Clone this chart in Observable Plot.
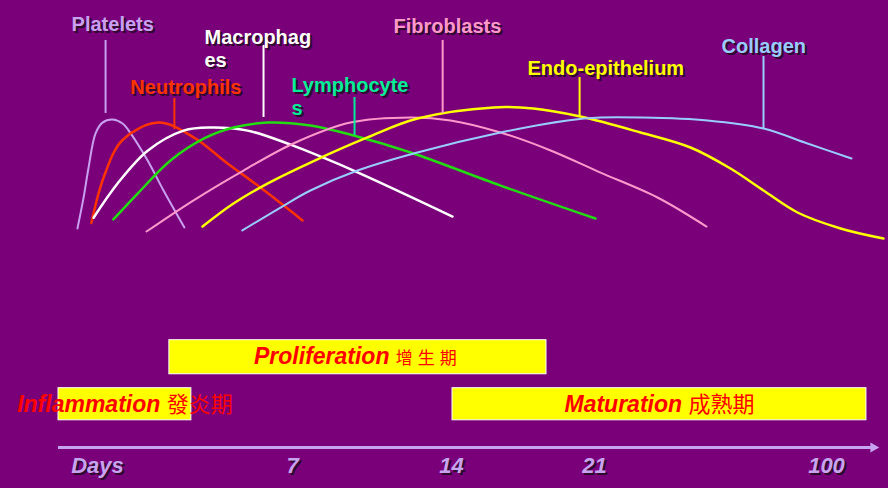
<!DOCTYPE html>
<html>
<head>
<meta charset="utf-8">
<script src="https://cdn.jsdelivr.net/npm/d3@7"></script>
<script src="https://cdn.jsdelivr.net/npm/@observablehq/plot@0.6"></script>
<style>
html, body { margin: 0; padding: 0; background: #7a007a; }
#chart { width: 888px; height: 488px; background: #7a007a; overflow: hidden; }
#chart svg { display: block; }
</style>
</head>
<body>
<div id="chart"></div>
<script>
// ---------- DATA ----------
// Time axis (days) and its tick labels
const tickDays = [0, 7, 14, 21, 100];
const tickLabels = ["Days", "7", "14", "21", "100"];
const axisSpan = [-1.4, 118.0];

// Cell / matrix types
const cellTypes = ["Platelets", "Neutrophils", "Macrophages", "Lymphocytes", "Fibroblasts", "Endo-epithelium", "Collagen"];
const labelTexts = ["Platelets", "Neutrophils", "Macrophag\nes", "Lymphocyte\ns", "Fibroblasts", "Endo-epithelium", "Collagen"];

// Relative activity curves (day, level 0-100)
const plateletsDay = [-0.72, -0.5, -0.32, -0.07, 0.18, 0.54, 0.9, 1.19, 1.8, 2.37, 3.12];
const plateletsLevel = [9, 32, 54.5, 80, 88, 90.3, 87.3, 80, 59.7, 37.3, 9.7];
const neutrophilsDay = [-0.22, 0.22, 0.9, 2.19, 3.45, 4.67, 5.85, 7.44];
const neutrophilsLevel = [13, 47, 75, 88, 77, 57.5, 39.5, 15];
const macrophagesDay = [-0.14, 0.72, 1.8, 3.09, 4.06, 5.39, 6.82, 7.35, 9.69, 14.05];
const macrophagesLevel = [17, 42.5, 67, 82, 84.3, 82, 72.4, 68.7, 52.2, 17.9];
const lymphocytesDay = [0.57, 1.44, 2.62, 3.81, 4.88, 6.1, 7.79, 9.69, 12.2, 16.4, 21.34];
const lymphocytesLevel = [15.7, 35, 59.7, 76, 84.3, 88, 85.8, 78.4, 65.7, 41, 16.4];
const fibroblastsDay = [1.76, 3.45, 5.24, 7.04, 9.55, 12.2, 13.96, 16.4, 18.85, 23.04, 42.45, 59.14];
const fibroblastsLevel = [6.7, 30, 52.2, 72.4, 88, 91.8, 89.6, 80.6, 67.2, 50.7, 32.1, 10.4];
const endoDay = [3.77, 4.88, 6.1, 7.79, 10.3, 12.5, 16.06, 18.01, 20.31, 36.66, 53.69, 67.31, 78.55, 90.13, 104.77, 119.41];
const endoLevel = [10.4, 27.6, 42.5, 58.2, 76.9, 91, 99.3, 98.5, 92.5, 80.6, 69.4, 53.7, 37.3, 20.9, 9, 1.5];
const collagenDay = [5.2, 6.57, 7.79, 9.86, 12.5, 16.4, 19.68, 23.04, 36.66, 59.48, 78.55, 93.53, 108.51];
const collagenLevel = [7.5, 24.6, 37.3, 52.2, 65.7, 80.6, 89.6, 91.8, 91.8, 89.6, 83.6, 72.4, 61.2];

// Label anchors (day, level) and leader lines
const labelDay = [-0.93, 1.18, 3.84, 6.96, 11.45, 17.72, 64.25];
const labelLevel = [161.5, 114.5, 143.2, 107.4, 160.0, 128.7, 145.1];
const leaderDay = [0.29, 2.76, 5.96, 9.73, 13.61, 20.27, 78.55];
const leaderTop = [149.3, 106, 145.5, 106.7, 149.3, 121.6, 137.3];
const leaderBottom = [94.8, 82.8, 91.8, 78.4, 94.8, 92.5, 83.6];

// Healing phases
const phaseNames = ["Proliferation", "Inflammation", "Maturation"];
const phaseCJK = ["增生期", "發炎期", "成熟期"];
const phaseStart = [2.58, -1.4, 14.05];
const phaseEnd = [18.65, 3.37, 113.6];
const phaseRow = [2, 1, 1];

// ---------- STYLES ----------
const curveColor = {
  "Platelets": "#c9a0f0", "Neutrophils": "#ff3300", "Macrophages": "#ffffff",
  "Lymphocytes": "#22dd11", "Fibroblasts": "#ff99cc", "Endo-epithelium": "#ffff00", "Collagen": "#99ccff"
};
const labelColor = Object.assign({}, curveColor, {"Lymphocytes": "#00ee99"});
const curveWidth = {"Fibroblasts": 2, "Collagen": 2, "Platelets": 2};
const cjkStyle = {"Proliferation": {size: 17, spacing: 5}, "Inflammation": {size: 22, spacing: 0}, "Maturation": {size: 22, spacing: 0}};
const latinFont = "'Liberation Sans', Arial, Helvetica, sans-serif";
const bg = "#7a007a";
const shadowColor = "#2e0a2e";
const axisColor = "#c8a4f0";

// ---------- BUILD TABLES ----------
const series = {
  "Platelets": [plateletsDay, plateletsLevel],
  "Neutrophils": [neutrophilsDay, neutrophilsLevel],
  "Macrophages": [macrophagesDay, macrophagesLevel],
  "Lymphocytes": [lymphocytesDay, lymphocytesLevel],
  "Fibroblasts": [fibroblastsDay, fibroblastsLevel],
  "Endo-epithelium": [endoDay, endoLevel],
  "Collagen": [collagenDay, collagenLevel]
};
const labels = cellTypes.map((type, i) => ({
  type, text: labelTexts[i], day: labelDay[i], level: labelLevel[i],
  leaderDay: leaderDay[i], top: leaderTop[i], bottom: leaderBottom[i]
}));
const phases = phaseNames.map((name, i) => ({
  name, cjk: phaseCJK[i], start: phaseStart[i], end: phaseEnd[i], row: phaseRow[i]
}));
const ticks = tickDays.map((d, i) => ({day: d, label: tickLabels[i]}));

const xRange = [97, 292, 451, 594, 826];
const xDef = {type: "linear", domain: tickDays, range: xRange, axis: null};
const xs = Plot.scale({x: {type: "linear", domain: tickDays, range: xRange}});
const mid = (a, b) => xs.invert((xs.apply(a) + xs.apply(b)) / 2);
const arrowCenter = xs.invert(xs.apply(axisSpan[1]) - 6);

// ---------- TOP PLOT: curves ----------
const curveMarks = cellTypes.map(type => {
  const [days, levels] = series[type];
  const pts = days.map((d, i) => ({day: d, level: levels[i]}));
  return Plot.line(pts, {x: "day", y: "level", stroke: curveColor[type],
    strokeWidth: curveWidth[type] || 2.5, curve: "catmull-rom"});
});

const topPlot = Plot.plot({
  width: 888, height: 330,
  marginTop: 0, marginRight: 0, marginBottom: 0, marginLeft: 0,
  style: {background: bg, overflow: "visible"},
  x: xDef,
  y: {type: "linear", domain: [0, 100], range: [240, 106], axis: null},
  marks: [
    ...curveMarks,
    Plot.ruleX(labels, {x: "leaderDay", y1: "top", y2: "bottom", stroke: d => labelColor[d.type], strokeWidth: 2}),
    Plot.text(labels, {x: "day", y: "level", text: "text", textAnchor: "start", lineAnchor: "middle",
      lineHeight: 1.15, dx: 2, dy: 2, fill: shadowColor, fontSize: 20, fontWeight: "bold", fontFamily: latinFont}),
    Plot.text(labels, {x: "day", y: "level", text: "text", textAnchor: "start", lineAnchor: "middle",
      lineHeight: 1.15, fill: d => labelColor[d.type], fontSize: 20, fontWeight: "bold", fontFamily: latinFont})
  ]
});

// ---------- BOTTOM PLOT: phases + time axis ----------
const bottomPlot = Plot.plot({
  width: 888, height: 158,
  marginTop: 0, marginRight: 0, marginBottom: 0, marginLeft: 0,
  style: {background: bg, overflow: "visible"},
  x: xDef,
  y: {type: "linear", domain: [0, 1, 2], range: [117, 74.5, 26.5], axis: null},
  marks: [
    Plot.rect(phases, {x1: "start", x2: "end", y1: d => d.row - 0.36, y2: d => d.row + 0.35,
      fill: "#ffff00", stroke: "#ffffff", strokeWidth: 1}),
    Plot.text(phases, {x: d => mid(d.start, d.end), y: "row", text: d => d.name + " " + d.cjk,
      fill: "#ff0000", fontSize: 23, fontWeight: "bold", fontStyle: "italic", fontFamily: latinFont,
      textAnchor: "middle", lineAnchor: "middle"}),
    Plot.ruleY([0], {x1: axisSpan[0], x2: arrowCenter, stroke: axisColor, strokeWidth: 3}),
    Plot.dot([arrowCenter], {x: d => d, y: 0, symbol: "triangle", rotate: 90, r: 3.8, fill: axisColor, stroke: "none"}),
    Plot.text(ticks, {x: "day", y: 0, text: "label", dy: 20, dx: 2, fill: shadowColor,
      fontSize: 22, fontWeight: "bold", fontStyle: "italic", fontFamily: latinFont}),
    Plot.text(ticks, {x: "day", y: 0, text: "label", dy: 18, fill: axisColor,
      fontSize: 22, fontWeight: "bold", fontStyle: "italic", fontFamily: latinFont})
  ]
});

// Mixed-script phase labels: render the Chinese part in a CJK face
const cjkRe = /[\u3400-\u9fff]/;
bottomPlot.querySelectorAll("text").forEach(t => {
  const s = t.textContent;
  const idx = s.search(cjkRe);
  if (idx < 0) return;
  const name = s.slice(0, idx).trim();
  const st = cjkStyle[name] || {size: 22, spacing: 0};
  t.textContent = "";
  const ns = "http://www.w3.org/2000/svg";
  const a = document.createElementNS(ns, "tspan");
  a.textContent = s.slice(0, idx);
  const b = document.createElementNS(ns, "tspan");
  b.textContent = s.slice(idx);
  b.setAttribute("font-family", "'Noto Sans CJK TC', 'Noto Sans CJK SC', sans-serif");
  b.setAttribute("font-weight", "normal");
  b.setAttribute("font-style", "normal");
  b.setAttribute("font-size", st.size);
  if (st.spacing) b.setAttribute("letter-spacing", st.spacing);
  t.appendChild(a);
  t.appendChild(b);
});

const chart = document.getElementById("chart");
chart.appendChild(topPlot);
chart.appendChild(bottomPlot);
</script>
</body>
</html>
